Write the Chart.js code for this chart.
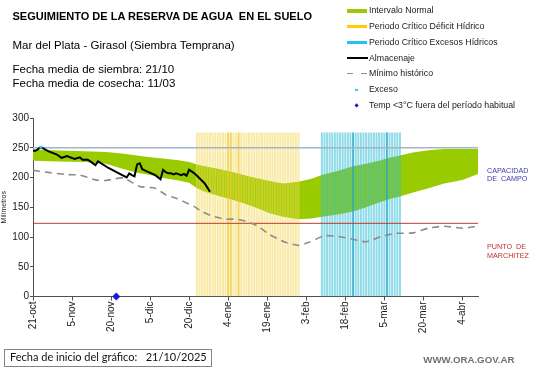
<!DOCTYPE html>
<html>
<head>
<meta charset="utf-8">
<script src="https://cdn.jsdelivr.net/npm/chart.js@4.4.0/dist/chart.umd.min.js"></script>
<style>
html,body{margin:0;padding:0;background:#fff;}
body{width:541px;height:368px;position:relative;overflow:hidden;font-family:Arial,"Liberation Sans",sans-serif;}
#c{position:absolute;left:0;top:0;}
.t{position:absolute;white-space:pre;line-height:1;color:#000;}
.lg{position:absolute;white-space:pre;line-height:1;color:#1a1a1a;font-size:8.8px;left:369px;}
.sw{position:absolute;}
</style>
</head>
<body>
<canvas id="c" width="541" height="368"></canvas>

<div class="t" style="left:12.5px;top:10.7px;font-size:11px;font-weight:bold;">SEGUIMIENTO DE LA RESERVA DE AGUA  EN EL SUELO</div>
<div class="t" style="left:12.5px;top:40.3px;font-size:11.5px;">Mar del Plata - Girasol (Siembra Temprana)</div>
<div class="t" style="left:12.5px;top:63.6px;font-size:11.5px;">Fecha media de siembra: 21/10</div>
<div class="t" style="left:12.5px;top:77.6px;font-size:11.5px;">Fecha media de cosecha: 11/03</div>

<!-- legend -->
<div class="sw" style="left:347px;top:9.4px;width:20px;height:3.4px;background:#99cc00;"></div>
<div class="lg" style="top:6.2px;">Intervalo Normal</div>
<div class="sw" style="left:347px;top:25.1px;width:20px;height:3.4px;background:#ffcc00;"></div>
<div class="lg" style="top:21.9px;">Periodo Crítico Déficit Hídrico</div>
<div class="sw" style="left:347px;top:41px;width:20px;height:3.4px;background:#22c4ee;"></div>
<div class="lg" style="top:37.9px;">Periodo Crítico Excesos Hídricos</div>
<div class="sw" style="left:347px;top:57.3px;width:21px;height:2px;background:#000;"></div>
<div class="lg" style="top:53.5px;">Almacenaje</div>
<div class="sw" style="left:347px;top:72.6px;width:6px;height:1.6px;background:#8c8c8c;"></div>
<div class="sw" style="left:361px;top:72.6px;width:6px;height:1.6px;background:#8c8c8c;"></div>
<div class="lg" style="top:68.5px;">Mínimo histórico</div>
<div class="sw" style="left:355px;top:88.6px;width:2.8px;height:2.8px;background:#33ccee;"></div>
<div class="lg" style="top:85.2px;">Exceso</div>
<div class="sw" style="left:355px;top:104.4px;width:3.2px;height:3.2px;background:#1a1acc;transform:rotate(45deg);"></div>
<div class="lg" style="top:101.2px;">Temp &lt;3°C fuera del período habitual</div>

<!-- right labels -->
<div class="t" style="left:487px;top:166.6px;font-size:7.2px;color:#3a3aa8;">CAPACIDAD</div>
<div class="t" style="left:487px;top:175.2px;font-size:7.2px;color:#3a3aa8;">DE  CAMPO</div>
<div class="t" style="left:487px;top:242.9px;font-size:7.2px;color:#c03030;">PUNTO  DE</div>
<div class="t" style="left:487px;top:251.6px;font-size:7.2px;color:#c03030;">MARCHITEZ</div>

<!-- footer -->
<div style="position:absolute;left:4px;top:349.3px;width:208px;height:17.4px;box-sizing:border-box;border:1px solid #8f7f80;"></div>
<div class="t" style="left:10px;top:351.3px;font-size:11px;font-family:Lato,'Open Sans',sans-serif;color:#111;">Fecha de inicio del gráfico:   21/10/2025</div>
<div class="t" style="left:423.3px;top:355.1px;font-size:9.7px;font-weight:bold;color:#707070;">WWW.ORA.GOV.AR</div>

<script>
// ---- data (days since 21-oct) ----
const tickDays = [0, 15, 30, 45, 60, 75, 90, 105, 120, 135, 150, 165];
const tickLabels = ['21-oct', '5-nov', '20-nov', '5-dic', '20-dic', '4-ene', '19-ene', '3-feb', '18-feb', '5-mar', '20-mar', '4-abr'];
const xMax = 171;

const normalDays  = [0, 10, 20, 28, 35, 40, 45, 50, 56, 60, 63, 66, 72, 77, 84, 91, 96, 102, 107, 111, 117, 123, 128, 133, 137, 141, 146, 152, 158, 165, 171];
const normalUpper = [247, 245.5, 244, 243, 240, 237, 234, 232, 229, 226, 222, 219, 214, 209, 201, 194, 190, 193, 198, 204, 211, 219, 223, 228, 233, 237, 242, 246, 248, 248, 248];
const normalLower = [228, 227, 226, 223, 214, 208, 204, 199, 195, 191, 182, 176, 168, 162, 152, 140, 134, 130, 131, 134, 138, 143, 150, 158, 164, 168, 175, 182, 190, 196, 206];

const minimoDays   = [0, 5, 13, 18, 24, 28, 33, 35, 41, 47, 51, 55, 62, 64, 69, 74, 78, 82, 86, 91, 97, 102, 106, 112, 117, 122, 128, 134, 139, 146, 152, 158, 165, 171];
const minimoValues = [212, 209, 205, 204, 196, 195, 199, 199, 185, 182, 171, 165, 151, 145, 135, 130, 130, 126, 119, 104, 91, 86, 91, 102, 101, 97, 92, 101, 106, 107, 115, 118, 115, 118];

const almacenajeDays   = [0, 1, 3, 6, 9, 11, 13, 16, 18, 19, 21, 22, 24, 25, 29, 33, 36, 37, 38, 39, 40, 41, 42, 44, 47, 49, 50, 51, 52, 53, 54, 55, 57, 58, 59, 60, 62, 63, 66, 68];
const almacenajeValues = [245, 245, 251, 244, 239, 233, 236, 231, 234, 230, 230, 227, 221, 227, 216, 207, 200, 207, 204, 202, 222, 224, 214, 210, 204, 197, 213, 209, 207, 207, 205, 207, 204, 206, 203, 213, 207, 203, 190, 176];

const deficitDays = [63, 64, 65, 66, 67, 68, 69, 70, 71, 72, 73, 74, 75, 76, 77, 78, 79, 80, 81, 82, 83, 84, 85, 86, 87, 88, 89, 90, 91, 92, 93, 94, 95, 96, 97, 98, 99, 100, 101, 102];
const deficitMarkedDays = [75, 76, 79];
const excesosHidricosDays = [111, 112, 113, 114, 115, 116, 117, 118, 119, 120, 121, 122, 123, 124, 125, 126, 127, 128, 129, 130, 131, 132, 133, 134, 135, 136, 137, 138, 139, 140, 141];
const excesosMarkedDays = [123, 136];
const periodTop = 275;

const excesoDays = [3];
const excesoValues = [251];
const tempDays = [32];
const tempValues = [0];

const capacidadCampo = 250;
const puntoMarchitez = 123;

// ---- build ----
const pts = (xs, ys) => xs.map((x, i) => ({x: x, y: ys[i]}));
const bars = (xs, v) => xs.map(x => ({x: x, y: v}));
const FONT = 'Arial, "Liberation Sans", sans-serif';

new Chart(document.getElementById('c').getContext('2d'), {
  type: 'line',
  data: {
    datasets: [
      { label: 'Temp <3°C fuera del período habitual', data: pts(tempDays, tempValues), showLine: false,
        pointStyle: 'rectRot', pointRadius: 4, backgroundColor: '#1a1acc', borderColor: '#1a1acc', borderWidth: 0, clip: false, order: 0 },
      { label: 'Exceso', data: pts(excesoDays, excesoValues), showLine: false,
        pointStyle: 'rect', pointRadius: 2, backgroundColor: '#33ccee', borderColor: '#33ccee', borderWidth: 0, order: 0 },
      { label: 'Almacenaje', data: pts(almacenajeDays, almacenajeValues), borderColor: '#000', borderWidth: 2,
        pointRadius: 0, fill: false, tension: 0, order: 1 },
      { label: 'Mínimo histórico', data: pts(minimoDays, minimoValues), borderColor: '#8c8c8c', borderWidth: 1.6,
        borderDash: [7, 5], pointRadius: 0, fill: false, tension: 0.2, order: 2 },
      { label: 'Capacidad de campo', data: [{x: 0, y: capacidadCampo}, {x: xMax, y: capacidadCampo}],
        borderColor: '#a3b3c8', borderWidth: 1.6, pointRadius: 0, fill: false, order: 3 },
      { label: 'Punto de marchitez', data: [{x: 0, y: puntoMarchitez}, {x: xMax, y: puntoMarchitez}],
        borderColor: '#c0392b', borderWidth: 1, pointRadius: 0, fill: false, order: 3 },
      { type: 'bar', label: 'Exceso marcado', data: bars(excesosMarkedDays, periodTop), backgroundColor: 'rgba(30,160,195,0.6)',
        barThickness: 1.2, grouped: false, order: 4 },
      { type: 'bar', label: 'Déficit marcado', data: bars(deficitMarkedDays, periodTop), backgroundColor: 'rgba(235,200,40,0.55)',
        barThickness: 1.2, grouped: false, order: 4 },
      { type: 'bar', label: 'Periodo Crítico Déficit Hídrico', data: bars(deficitDays, periodTop), backgroundColor: 'rgba(244,216,80,0.5)',
        barThickness: 1.4, grouped: false, order: 5 },
      { type: 'bar', label: 'Periodo Crítico Excesos Hídricos', data: bars(excesosHidricosDays, periodTop), backgroundColor: 'rgba(50,190,215,0.55)',
        barThickness: 1.3, grouped: false, order: 5 },
      { label: 'Intervalo Normal (sup)', data: pts(normalDays, normalUpper), borderWidth: 0, borderColor: 'rgba(0,0,0,0)',
        backgroundColor: '#99cc00', pointRadius: 0, fill: '+1', tension: 0, order: 7 },
      { label: 'Intervalo Normal (inf)', data: pts(normalDays, normalLower), borderWidth: 0, borderColor: 'rgba(0,0,0,0)',
        pointRadius: 0, fill: false, tension: 0, order: 8 }
    ]
  },
  options: {
    responsive: false,
    animation: false,
    devicePixelRatio: 1,
    layout: { padding: { left: 0, right: 63, top: 118, bottom: 0 } },
    plugins: { legend: { display: false }, tooltip: { enabled: false } },
    scales: {
      x: {
        type: 'linear', min: 0, max: xMax, offset: false,
        afterBuildTicks: s => { s.ticks = tickDays.map(v => ({value: v})); },
        afterFit: s => { s.height = 71.5; },
        ticks: { autoSkip: false, minRotation: 90, maxRotation: 90, padding: 1, color: '#1a1a1a',
          font: { family: FONT, size: 10 },
          callback: v => tickLabels[tickDays.indexOf(v)] },
        grid: { drawOnChartArea: false, drawTicks: true, tickLength: 4, color: '#505050', offset: false },
        border: { color: '#505050', width: 1 }
      },
      y: {
        min: 0, max: 300,
        afterFit: s => { s.width = 33; },
        ticks: { stepSize: 50, padding: 1, color: '#1a1a1a', font: { family: FONT, size: 10 } },
        grid: { drawOnChartArea: false, drawTicks: true, tickLength: 3, color: '#505050' },
        border: { color: '#505050', width: 1 },
        title: { display: true, text: 'Milímetros', color: '#1a1a1a', font: { family: FONT, size: 7 }, padding: 0 }
      }
    }
  }
});
</script>
</body>
</html>
